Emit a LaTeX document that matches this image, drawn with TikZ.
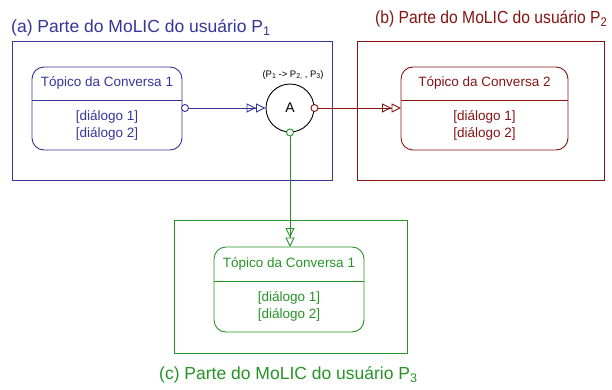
\documentclass[tikz,border=0pt]{standalone}
\usepackage{fontspec}
\setmainfont{Liberation Sans}
\usetikzlibrary{arrows.meta}
\definecolor{cb}{HTML}{35359A}
\definecolor{cr}{HTML}{861414}
\definecolor{cg}{HTML}{259425}
\newcommand\subidx[2]{{\fontsize{#1}{#1}\selectfont\raisebox{-0.5ex}{#2}}}
\tikzset{
  frame/.style={draw, line width=0.9pt, anchor=north west, inner sep=0pt, outer sep=0pt},
  statebox/.style={draw, line width=0.9pt, rounded corners=12pt, anchor=north west, inner sep=0pt, outer sep=0pt},
  stxt/.style={font=\fontsize{13.5}{16.5}\selectfont, inner sep=0pt, align=center},
  ttl/.style={font=\fontsize{17.5}{20}\selectfont, inner sep=0pt, anchor=west},
  port/.style={circle, draw, fill=white, line width=0.9pt, minimum size=7pt, inner sep=0pt},
  dbl/.style={line width=0.9pt, -{Triangle[open,length=9.5pt,width=9pt]Triangle[open,length=9.5pt,width=9pt]}},
}
\begin{document}
\begin{tikzpicture}[x=1pt,y=-1pt]
\useasboundingbox (0,0) rectangle (612,390);
% frames
\node[frame, draw=cb, minimum width=320pt, minimum height=139pt] (fa) at (12,41) {};
\node[frame, draw=cr, minimum width=247pt, minimum height=139pt] (fb) at (357,41) {};
\node[frame, draw=cg, minimum width=233pt, minimum height=133pt] (fc) at (174,220) {};
% titles
\node[ttl, text=cb] (ta) at (11,28) {(a) Parte do MoLIC do usuário P\subidx{12.5}{1}};
\node[ttl, text=cr] (tb) at (375,19) {\scalebox{0.895}[1]{(b) Parte do MoLIC do usuário P\subidx{12.5}{2}}};
\node[ttl, text=cg] (tc) at (159,375) {(c) Parte do MoLIC do usuário P\subidx{12.5}{3}};
% state a
\node[statebox, draw=cb, minimum width=150pt, minimum height=83pt] (sa) at (32,67) {};
\draw[cb, line width=0.9pt] (32,100) -- (182,100);
\node[stxt, text=cb] (sat) at (107,83) {Tópico da Conversa 1};
\node[stxt, text=cb] (sab) at (107,125.5) {[diálogo 1]\\{}[diálogo 2]};
% state b
\node[statebox, draw=cr, minimum width=167pt, minimum height=83pt] (sb) at (401,67) {};
\draw[cr, line width=0.9pt] (401,100) -- (568,100);
\node[stxt, text=cr] (sbt) at (484.5,83) {Tópico da Conversa 2};
\node[stxt, text=cr] (sbb) at (484.5,125.5) {[diálogo 1]\\{}[diálogo 2]};
% state c
\node[statebox, draw=cg, minimum width=150pt, minimum height=85pt] (sc) at (214,247) {};
\draw[cg, line width=0.9pt] (214,281) -- (364,281);
\node[stxt, text=cg] (sct) at (289,264) {Tópico da Conversa 1};
\node[stxt, text=cg] (scb) at (289,306.5) {[diálogo 1]\\{}[diálogo 2]};
% circle A
\node[circle, draw=black, line width=0.9pt, minimum size=48pt, inner sep=0pt,
      font=\fontsize{14}{16}\selectfont] (A) at (290,108) {A};
\node[font=\fontsize{9.5}{11}\selectfont, inner sep=0pt] (lab) at (293,75)
  {(P\subidx{7}{1} -> P\subidx{7}{2,} , P\subidx{7}{3})};
% ports
\node[port, draw=cb] (pa) at (185,108) {};
\node[port, draw=cr] (pr) at (A.east) {};
\node[port, draw=cg] (pg) at (A.south) {};
% connectors
\draw[dbl, cb] (pa) -- (A.west);
\draw[dbl, cr] (pr) -- (sb.west |- pr);
\draw[dbl, cg] (pg) -- (pg |- sc.north);
\end{tikzpicture}
\end{document}
